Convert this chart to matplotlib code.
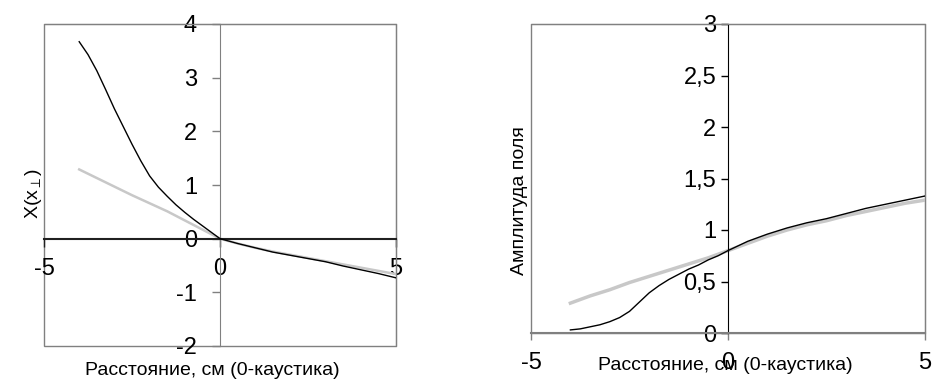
import numpy as np
import matplotlib
matplotlib.use("Agg")
import matplotlib.pyplot as plt
from matplotlib.patches import Rectangle

plt.rcParams['font.family'] = ['Liberation Sans', 'DejaVu Sans']
plt.rcParams['mathtext.fontset'] = 'custom'
plt.rcParams['mathtext.rm'] = 'Liberation Sans'
plt.rcParams['mathtext.it'] = 'Liberation Sans'

# --- данные: левый график X(x_perp) ---
x_left_black = [-4, -3.75, -3.5, -3.25, -3, -2.75, -2.5, -2.25, -2, -1.75, -1.5, -1.25,
                -1, -0.75, -0.5, -0.25, 0, 0.5, 1, 1.5, 2, 2.5, 3, 3.5, 4, 4.5, 5]
y_left_black = [3.67, 3.43, 3.13, 2.78, 2.42, 2.09, 1.76, 1.45, 1.17, 0.96, 0.79, 0.63,
                0.49, 0.36, 0.24, 0.12, 0.0, -0.09, -0.17, -0.25, -0.31, -0.37, -0.43,
                -0.51, -0.58, -0.65, -0.73]
x_left_gray = [-4, -3.5, -3, -2.5, -2, -1.5, -1, -0.5, 0, 0.5, 1, 1.5, 2, 2.5, 3, 3.5, 4, 4.5, 5]
y_left_gray = [1.29, 1.13, 0.97, 0.81, 0.66, 0.51, 0.34, 0.17, 0.0, -0.09, -0.17, -0.24,
               -0.30, -0.36, -0.42, -0.48, -0.54, -0.60, -0.66]

# --- данные: правый график, амплитуда поля ---
x_right_black = [-4, -3.75, -3.5, -3.25, -3, -2.75, -2.5, -2.25, -2, -1.75, -1.5, -1.25,
                 -1, -0.75, -0.5, -0.25, 0, 0.5, 1, 1.5, 2, 2.5, 3, 3.5, 4, 4.5, 5]
y_right_black = [0.03, 0.04, 0.06, 0.08, 0.11, 0.15, 0.21, 0.30, 0.39, 0.46, 0.52, 0.57,
                 0.62, 0.66, 0.71, 0.75, 0.80, 0.89, 0.96, 1.02, 1.07, 1.11, 1.16, 1.21,
                 1.25, 1.29, 1.33]
x_right_gray = [-4, -3.5, -3, -2.5, -2, -1.5, -1, -0.5, 0, 0.5, 1, 1.5, 2, 2.5, 3, 3.5, 4, 4.5, 5]
y_right_gray = [0.29, 0.36, 0.42, 0.49, 0.55, 0.61, 0.67, 0.73, 0.80, 0.87, 0.94, 1.00,
                1.05, 1.09, 1.14, 1.18, 1.22, 1.26, 1.29]

x_ticks = [-5, 0, 5]
x_ticklabels = ['-5', '0', '5']
left_yticks = [-2, -1, 0, 1, 2, 3, 4]
left_yticklabels = ['-2', '-1', '0', '1', '2', '3', '4']
right_yticks = [0, 0.5, 1, 1.5, 2, 2.5, 3]
right_yticklabels = ['0', '0,5', '1', '1,5', '2', '2,5', '3']

xlabel_text = 'Расстояние, см (0-каустика)'
gray_frame = '#808080'
gray_line = '#c8c8c8'
tick_fs = 17
label_fs = 14

fig = plt.figure(figsize=(9.47, 3.92), dpi=100)

# ---------- левый график ----------
ax1 = fig.add_axes([44/947, 46/392, 352/947, 322/392])
ax1.plot(x_left_gray, y_left_gray, color=gray_line, lw=1.8, zorder=2)
ax1.plot(x_left_black, y_left_black, color='black', lw=1.0, zorder=3)
ax1.set_xlim(-5, 5)
ax1.set_ylim(-2, 4)
ax1.spines['left'].set_position(('data', 0))
ax1.spines['left'].set_color(gray_frame)
ax1.spines['bottom'].set_position(('data', 0))
ax1.spines['bottom'].set_color('#202020')
ax1.spines['bottom'].set_linewidth(1.5)
for s in ['top', 'right']:
    ax1.spines[s].set_color(gray_frame)
ax1.add_patch(Rectangle((0, 0), 1, 1, transform=ax1.transAxes, fill=False,
                        edgecolor=gray_frame, lw=1.0, clip_on=False, zorder=1))
ax1.set_xticks(x_ticks, x_ticklabels)
ax1.set_yticks(left_yticks, left_yticklabels)
ax1.tick_params(axis='y', direction='out', length=5.5, pad=11, labelsize=tick_fs,
                color=gray_frame, width=1)
ax1.tick_params(axis='x', direction='out', length=6, pad=8, labelsize=tick_fs,
                color='#202020', width=1)
ax1.set_ylabel('X(x$_{\\perp}$)', fontsize=label_fs, va='center')
ax1.yaxis.set_label_coords(-0.031, 0.475)
ax1.set_xlabel(xlabel_text, fontsize=label_fs, va='center')
ax1.xaxis.set_label_coords(0.477, -0.075)

# ---------- правый график ----------
ax2 = fig.add_axes([531/947, 59/392, 394/947, 309/392])
ax2.plot(x_right_gray, y_right_gray, color=gray_line, lw=2.5, zorder=2)
ax2.plot(x_right_black, y_right_black, color='black', lw=1.0, zorder=3)
ax2.set_xlim(-5, 5)
ax2.set_ylim(0, 3)
ax2.spines['left'].set_position(('data', 0))
ax2.spines['left'].set_color('black')
for s in ['top', 'right', 'bottom']:
    ax2.spines[s].set_color(gray_frame)
ax2.spines['bottom'].set_linewidth(1.5)
ax2.add_patch(Rectangle((0, 0), 1, 1, transform=ax2.transAxes, fill=False,
                        edgecolor=gray_frame, lw=1.0, clip_on=False, zorder=1))
ax2.set_xticks(x_ticks, x_ticklabels)
ax2.set_yticks(right_yticks, right_yticklabels)
ax2.tick_params(axis='y', direction='out', length=5, pad=3.5, labelsize=tick_fs,
                color='black', width=1)
ax2.tick_params(axis='x', direction='out', length=5, pad=9, labelsize=tick_fs,
                color=gray_frame, width=1)
ax2.set_ylabel('Амплитуда поля', fontsize=label_fs, va='center')
ax2.yaxis.set_label_coords(-0.029, 0.43)
ax2.set_xlabel(xlabel_text, fontsize=label_fs, va='center')
ax2.xaxis.set_label_coords(0.494, -0.104)

fig.savefig('out.png', dpi=100)
